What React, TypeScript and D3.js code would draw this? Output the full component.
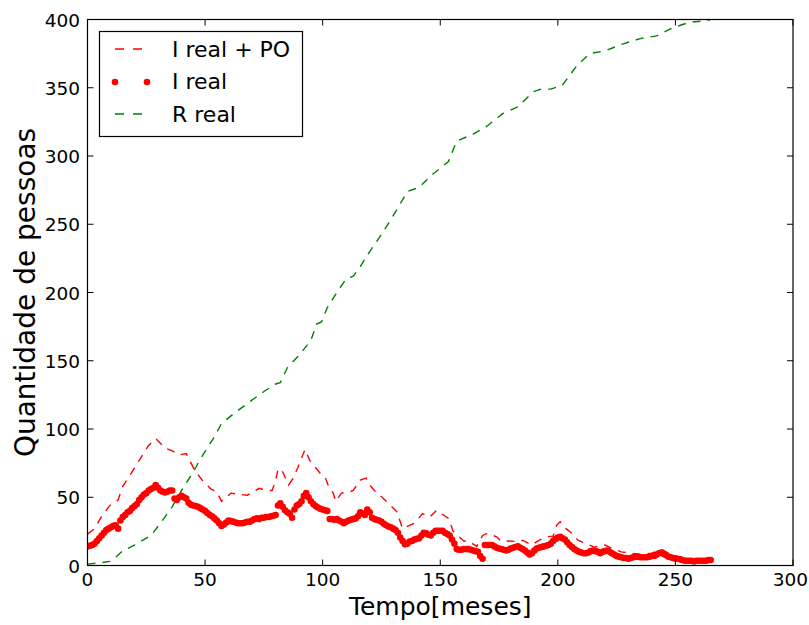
import React from "react";
import * as d3 from "d3";

// I real: one reading per month (month = index)
const iRealV = [14,14.5,15,16,18,20,22,24,26,27,28,29,29.5,27,33,35.5,37,39,40,42,43.5,45,48,50,52,53,55,56,57,59,57,55,54,53.5,54,55,55,49,48,50,51,50,49,46,44.5,44,43.5,43,42,41,40,38.5,37,36,34.5,33,31,29,30,31.5,33,32.5,32,31.5,31,31,31,31.5,32,32,33,34,34.5,34,35,35,35.5,35.5,36,36.5,37,44,45.5,43,40.5,39,38,35,41,44,45,47,51,53,50,47,45,43.5,42.5,41.5,41,40.5,40,34,34,33.5,34,33,32,31,32,33,33.5,34,34.5,36,39,38,37,41,39,35,34,33.5,33,32,30.5,29.5,28.5,28,27,26,24,20.5,18,15.5,16,17.5,18,19,19.5,20,22,24,23.5,22.5,22,24,25.5,25.5,25.5,25.5,24,23,22,19,16,12,11.5,11.5,12,12,12,11.5,11,10.5,10,7,5,15,15,15,15,14,13,12.5,12,11.5,11,11.5,12.5,13,13.5,14,13,12,11,9.5,8,9,11,12.5,13,13.5,14,14.5,15,16,18,19.5,20.5,21,20,19,17,15,13.5,12,11,10,9.5,9,9,9.5,10.5,11,10.5,10,9,10,10.5,11,10,9,8,7,6.5,6,5.5,5.5,5,5.5,6,6.5,6.5,6,6,6,6,6.5,7,7,8,9,9.5,8.5,7.5,6.5,6,5.5,5,5,4.5,4,3.5,3.5,3.5,3.5,3,3.5,3.5,3.5,3.5,3.5,4,4];

const iPoT = [0,3,6,9.5,13,15,18,22,26,29,33,36,39,42,45.5,49,52.5,55,57,61,65,68,70.5,73,76,78.5,80,81,83,85.5,87.5,89.5,92.5,94.5,99,101,102.5,104.5,105.5,108,111.5,113,116,118.5,119.5,122,126.5,131.5,134,139,142.5,145.5,148.5,150.5,153.5,155.5,160,162,165.5,168,170,174,176,179.5,183,185,189,191,195,198,199.5,201,203.5,206,208.5,212,215.5,220,223,227,231,235.5,240,244,247,251,256.5,260,265];
const iPoV = [23,27,36,44,48,58,66,77,88,93,86,84,81,82,70,62,56,54,47,53,52,51.5,54,56.5,55,55,62,71,68.5,59,64,72,85,77,67.5,65,58,53,47,53,54,55,62.5,64,60,55,48,39.5,27,31,38,35.5,40.5,38,34.5,25,18,18,14,22,23.5,21,17.5,18,17.5,18.5,15,17.5,21,21.5,29.5,32,27,23.5,18.5,16,13.5,15,12.5,10,9,8,9,12,9,6.5,4.5,4,4];

const rRealT = [0,5.5,9.5,12,14.5,20,27,31.5,36,40,45,48,53.5,57,62,69,75.5,80,82,85,90,95,97.5,99.5,102,106,110,113,116,120,124,128.5,133,136,141,147,150,153.5,157,164,170,176.5,183,189.5,193,197,202,208,213.5,220,227.5,235,242,249,256,263,265];
const rRealV = [1,2,3,6,10,15,22,32,43,55,68.5,78,93,104,111,120,128,133,134,145,154,165,177,178.5,189,200,210,212,219,230,240,252,265,274,277,287,291,296,311,316,322,331,336,347,349,349,352,366,375,377,382,386,388,394,398,399,400];

const xTicks = [0,50,100,150,200,250,300];
const yTicks = [0,50,100,150,200,250,300,350,400];
const legendLabels = ["I real + PO", "I real", "R real"];

const FONT = "'DejaVu Sans', sans-serif";

export default function App() {
  const x = d3.scaleLinear().domain([0, 300]).range([87.5, 793]);
  const y = d3.scaleLinear().domain([0, 400]).range([565.5, 19.5]);
  const [x0, x1] = x.range();
  const [yb, yt] = y.range();

  const line = d3.line<[number, number]>().x(d => x(d[0])).y(d => y(d[1]));
  const po = iPoT.map((t, i) => [t, iPoV[i]] as [number, number]);
  const rr = rRealT.map((t, i) => [t, rRealV[i]] as [number, number]);
  const ir = iRealV.map((v, i) => [i, v] as [number, number]);

  const tl = 6;
  const tickFs = 18.5;
  return (
    <svg width={809} height={625} style={{ position: "absolute", left: 0, top: 0, background: "#fff" }}>
      <rect x={0} y={0} width={809} height={625} fill="#fff" />
      <defs>
        <clipPath id="plot">
          <rect x={x0} y={yt} width={x1 - x0} height={yb - yt} />
        </clipPath>
      </defs>
      <g clipPath="url(#plot)">
        <path d={line(rr) || ""} fill="none" stroke="#008000" strokeWidth={1.4} strokeDasharray="8,7" />
        <path d={line(po) || ""} fill="none" stroke="#ff0000" strokeWidth={1.4} strokeDasharray="8,7" />
        {ir.map((d, i) => (
          <circle key={i} cx={x(d[0])} cy={y(d[1])} r={3.3} fill="#ff0000" />
        ))}
      </g>
      <rect x={x0} y={yt} width={x1 - x0} height={yb - yt} fill="none" stroke="#000" strokeWidth={1.2} />
      {xTicks.map(t => {
        const half = (String(t).length * 0.636 * tickFs) / 2;
        const cx = Math.min(x(t), 808 - half);
        return (
          <g key={"x" + t}>
            <line x1={x(t)} x2={x(t)} y1={yb} y2={yb - tl} stroke="#000" />
            <line x1={x(t)} x2={x(t)} y1={yt} y2={yt + tl} stroke="#000" />
            <text x={cx} y={586} textAnchor="middle" fontFamily={FONT} fontSize={tickFs}>{t}</text>
          </g>
        );
      })}
      {yTicks.map(t => (
        <g key={"y" + t}>
          <line x1={x0} x2={x0 + tl} y1={y(t)} y2={y(t)} stroke="#000" />
          <line x1={x1} x2={x1 - tl} y1={y(t)} y2={y(t)} stroke="#000" />
          <text x={80} y={y(t) + 7} textAnchor="end" fontFamily={FONT} fontSize={tickFs}>{t}</text>
        </g>
      ))}
      <text x={(x0 + x1) / 2} y={615} textAnchor="middle" fontFamily={FONT} fontSize={25}>Tempo[meses]</text>
      <text transform={`translate(35,${(yt + yb) / 2}) rotate(-90)`} textAnchor="middle" fontFamily={FONT} fontSize={28}>Quantidade de pessoas</text>
      <g>
        <rect x={99.5} y={31.5} width={203} height={105} fill="#fff" stroke="#000" strokeWidth={1.2} />
        <line x1={115} x2={147} y1={49} y2={49} stroke="#ff0000" strokeWidth={1.4} strokeDasharray="9,9" />
        <circle cx={115} cy={82} r={3.3} fill="#ff0000" />
        <circle cx={147} cy={82} r={3.3} fill="#ff0000" />
        <line x1={115} x2={147} y1={114} y2={114} stroke="#008000" strokeWidth={1.4} strokeDasharray="9,9" />
        {legendLabels.map((l, i) => (
          <text key={l} x={172} y={49 + 32.5 * i + 7.5} fontFamily={FONT} fontSize={22}>{l}</text>
        ))}
      </g>
    </svg>
  );
}
